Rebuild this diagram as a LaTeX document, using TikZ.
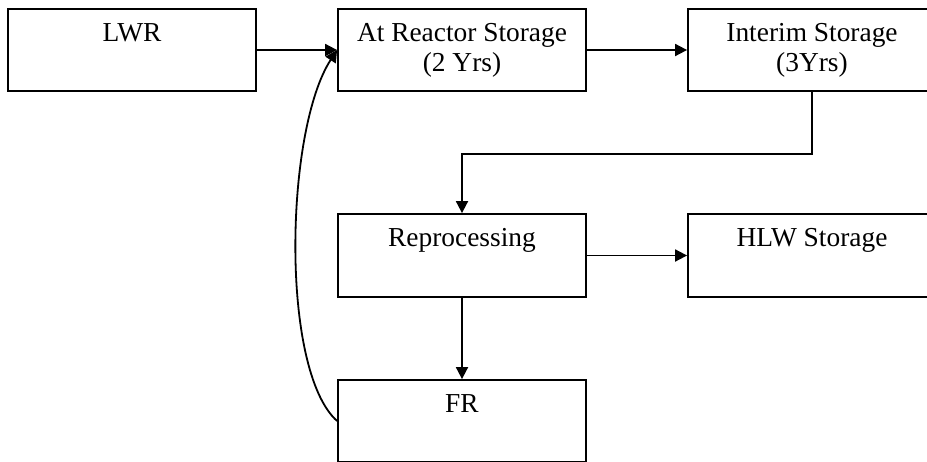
\documentclass[tikz,border=0pt]{standalone}
\usepackage{fontspec}
\setmainfont{Liberation Serif}
\usetikzlibrary{positioning, arrows.meta}
\tikzset{
  box/.style={draw, line width=1.8pt, minimum width=248pt, minimum height=82pt,
    align=center, inner sep=0pt, font=\fontsize{27.4}{30}\selectfont},
  arr/.style={line width=1.8pt, -{Triangle[length=12pt,width=12pt]}}
}

\begin{document}
\begin{tikzpicture}[x=1pt, y=-1pt]
\clip (0,0) rectangle (927,461);
% boxes
\node[box] (lwr) at (132,50) {\strut LWR\\\strut};
\node[box] (ars) at (462,50) {\strut At Reactor Storage\\\strut(2 Yrs)};
\node[box] (interim) at (812,50) {\strut Interim Storage\\\strut(3Yrs)};
\node[box, minimum height=83pt] (rep) at (462,255.5) {\strut Reprocessing\\\strut};
\node[box, minimum height=83pt] (hlw) at (812,255.5) {\strut HLW Storage\\\strut};
\node[box] (fr) at (462,421) {\strut FR\\\strut};
% flows
\draw[arr] (lwr) -- (ars);
\draw[arr] (ars) -- (interim);
\draw[arr] (interim.south) -- ++(0,62) -| (rep.north);
\draw[arr] (rep) -- (hlw);
\draw[arr] (rep) -- (fr);
\draw[arr] (fr.west) .. controls (280,370) and (285,130) .. (ars.west);
\end{tikzpicture}
\end{document}
